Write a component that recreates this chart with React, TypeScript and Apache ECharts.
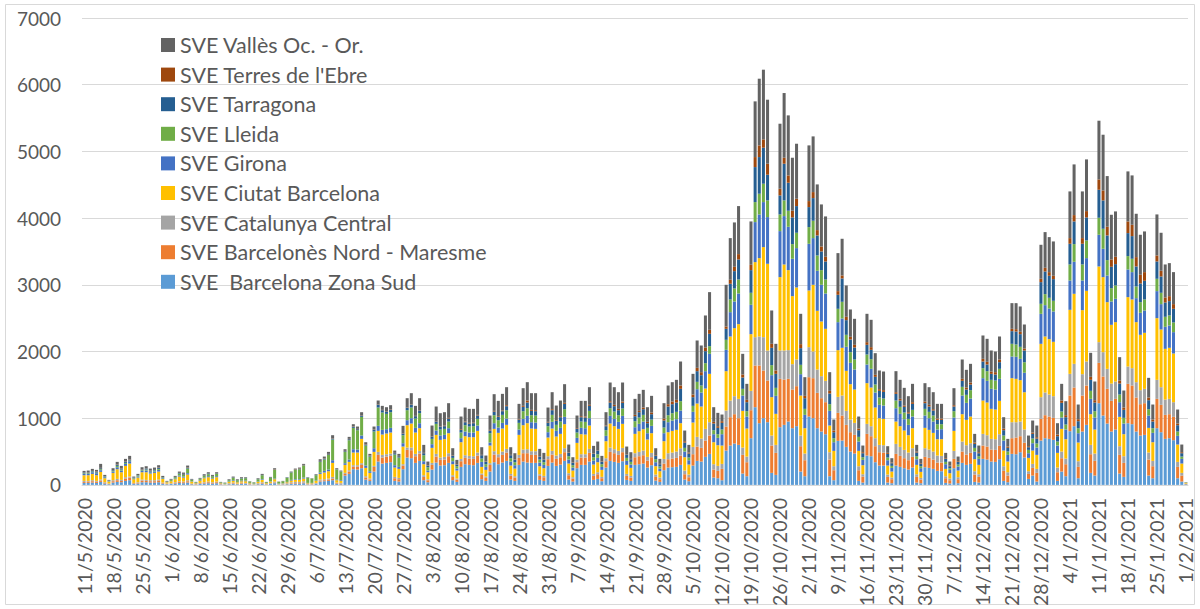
import React, { useEffect, useRef } from "react";
import * as echarts from "echarts";

// Daily categories: 11/5/2020 .. 1/2/2021 (267 days)
const START_Y = 2020, START_M = 4, START_D = 11, N_DAYS = 267;
const dates: string[] = Array.from({ length: N_DAYS }, (_, i) => {
  const d = new Date(START_Y, START_M, START_D + i);
  return `${d.getDate()}/${d.getMonth() + 1}/${d.getFullYear()}`;
});

const seriesNames = [
  "SVE  Barcelona Zona Sud",
  "SVE Barcelonès Nord - Maresme",
  "SVE Catalunya Central",
  "SVE Ciutat Barcelona",
  "SVE Girona",
  "SVE Lleida",
  "SVE Tarragona",
  "SVE Terres de l'Ebre",
  "SVE Vallès Oc. - Or.",
];
const seriesColors = ["#5B9BD5", "#ED7D31", "#A5A5A5", "#FFC000", "#4472C4", "#70AD47", "#255E91", "#9E480E", "#636363"];

const yTicks = [0, 1000, 2000, 3000, 4000, 5000, 6000, 7000];

const bzs = [
  30,30,35,30,45,20,10, 35,45,40,60,70,15,20, 40,40,35,35,40,15,10, 15,20,30,25,35,10,5,
  15,20,25,20,25,5,5, 10,15,10,15,15,5,5, 10,20,5,15,25,5,5, 10,15,20,20,25,5,5,
  15,50,55,60,70,15,10, 140,165,235,230,250,80,60, 200,350,320,330,340,60,50, 235,410,400,330,360,70,40,
  230,335,290,295,330,70,45, 270,310,300,295,330,85,60, 200,340,310,335,360,80,60, 300,350,335,330,330,75,60,
  285,335,285,305,360,80,50, 250,300,300,350,75,90,55, 260,360,345,330,355,75,60, 300,310,320,260,295,65,45,
  220,260,265,270,300,80,55, 290,360,350,420,465,110,100, 70,515,590,620,600,170,130, 700,1165,925,1000,940,180,150,
  865,900,950,850,880,200,130, 1025,1000,850,800,760,130,70, 660,665,570,500,470,60,35, 440,430,340,290,290,35,25,
  290,270,250,230,260,35,25, 265,255,240,210,205,30,20, 250,25,330,300,315,45,35, 390,380,350,345,385,60,40,
  465,460,490,410,90,140,50, 665,700,690,675,60,200,130, 805,880,100,800,900,180,140, 1225,1040,920,800,830,170,120,
  925,910,800,740,750,140,100, 850,790,690,700,670,100,50, 10,
];
const bnm = [
  15,20,20,20,20,10,5, 20,25,20,35,40,10,10, 25,20,20,20,25,10,5, 5,10,15,15,20,5,5,
  10,10,15,10,15,5,0, 5,10,5,10,5,5,0, 5,10,5,5,10,0,5, 5,10,10,10,10,5,5,
  5,15,15,20,25,10,10, 25,35,40,45,50,30,20, 70,100,90,95,95,40,35, 55,115,120,100,110,50,30,
  70,90,85,85,100,50,35, 85,95,95,95,110,65,45, 100,115,105,115,125,60,50, 105,125,140,120,120,60,55,
  100,120,105,110,130,65,45, 90,110,110,130,60,70,45, 95,135,130,120,135,60,50, 115,120,125,105,120,55,40,
  100,125,130,135,140,80,60, 170,215,205,245,275,120,110, 170,360,425,440,400,280,210, 420,625,865,715,625,410,330,
  725,680,640,580,600,380,240, 590,600,530,500,480,250,150, 420,375,330,290,280,160,90, 325,300,240,200,195,85,60,
  175,165,150,140,160,85,55, 155,150,140,125,130,70,50, 140,60,170,155,165,110,85, 200,195,180,180,200,150,100,
  235,250,240,220,75,115,130, 325,345,335,330,130,200,180, 535,580,170,540,590,280,220, 605,585,520,460,460,280,210,
  590,580,510,470,475,240,180, 440,410,360,360,350,170,90, 5,
];
const cc = [
  15,10,15,10,15,10,5, 15,20,15,20,15,5,10, 15,15,15,15,15,10,5, 5,10,10,10,15,5,5,
  5,10,10,10,10,5,5, 10,10,5,10,10,5,5, 10,10,5,10,15,5,5, 10,15,15,15,20,5,5,
  10,15,15,15,25,10,10, 15,20,20,20,25,20,15, 15,45,40,35,35,20,20, 20,35,40,35,40,25,15,
  30,40,35,40,45,25,15, 35,40,40,40,45,20,20, 25,50,45,50,55,25,20, 45,55,60,55,55,25,20,
  45,55,50,50,60,30,20, 40,50,50,60,30,30,20, 45,65,60,60,65,30,25, 60,65,70,55,65,35,25,
  70,90,90,95,110,55,40, 110,145,140,175,200,80,75, 75,240,250,270,290,110,85, 290,425,435,500,450,150,120,
  425,435,430,380,400,160,100, 450,400,350,330,320,110,60, 240,300,210,190,180,60,35, 150,150,120,110,110,35,25,
  150,135,125,115,130,40,25, 130,125,120,105,100,30,25, 120,30,150,140,145,50,40, 175,170,160,160,175,70,50,
  240,230,220,200,40,60,60, 325,340,330,325,70,100,85, 325,355,85,320,360,140,110, 310,365,300,260,260,130,100,
  260,260,230,210,215,105,80, 285,265,230,230,220,75,40, 5,
];
const cb = [
  85,85,95,85,115,60,30, 110,145,115,170,195,55,70, 110,115,100,110,120,55,20, 30,45,70,60,85,30,10,
  35,60,65,55,65,10,5, 20,25,20,20,25,10,5, 20,35,10,20,35,5,5, 15,25,30,30,40,10,10,
  30,85,100,110,210,35,30, 120,125,190,190,365,125,85, 210,315,305,310,315,140,135, 265,335,360,320,340,165,105,
  225,285,265,265,300,165,120, 250,285,280,285,325,100,100, 265,335,320,345,360,125,115, 300,365,390,340,335,120,115,
  280,335,285,300,360,145,100, 250,300,295,350,140,150,105, 255,360,345,330,360,135,120, 290,310,320,260,295,125,95,
  265,315,325,325,375,200,150, 365,500,480,605,725,330,310, 275,590,960,1020,1120,550,420, 850,1125,1175,1350,1300,575,465,
  1100,1290,1200,1020,1080,600,380, 850,1000,880,820,780,400,230, 700,715,600,530,500,230,135, 610,580,460,400,395,135,90,
  335,310,290,260,300,140,90, 305,295,280,245,250,110,80, 300,100,410,380,400,180,140, 500,490,450,445,500,235,160,
  660,650,620,560,200,200,210, 800,840,830,815,220,340,290, 960,1050,280,960,1060,460,360, 1135,1125,1000,880,890,440,330,
  1040,1030,900,830,840,370,280, 925,865,760,765,730,260,140, 10,
];
const girona = [
  20,20,25,30,25,15,5, 20,30,25,30,35,10,15, 20,25,20,20,25,10,5, 5,10,15,15,20,5,5,
  10,10,15,10,15,5,5, 5,10,5,10,10,5,5, 5,10,0,5,10,5,5, 5,10,10,10,15,5,5,
  5,20,25,25,40,10,10, 25,35,50,45,50,35,25, 55,75,70,65,70,35,30, 50,75,80,70,75,45,25,
  55,65,65,65,75,45,30, 60,70,70,70,80,75,45, 45,85,80,85,95,60,50, 80,95,110,95,95,55,50,
  80,100,85,90,110,60,45, 75,95,95,110,60,65,45, 80,115,110,105,120,60,50, 100,110,115,95,110,60,40,
  120,150,155,160,190,85,65, 160,215,210,260,300,120,110, 170,320,365,400,460,230,180, 440,600,655,675,700,330,270,
  690,725,650,560,590,320,200, 700,700,600,550,530,220,130, 420,440,360,320,300,140,80, 280,280,225,200,200,80,55,
  200,185,170,155,175,85,55, 185,175,170,145,150,70,50, 200,60,280,255,270,115,90, 335,325,300,300,330,150,100,
  325,330,320,290,70,110,110, 450,470,460,455,110,170,145, 440,480,140,445,490,230,180, 475,425,400,350,350,220,160,
  415,410,360,330,335,185,140, 405,380,330,335,320,130,70, 0,
];
const lleida = [
  10,10,10,10,15,10,5, 10,20,15,15,10,10,15, 10,15,10,15,15,10,5, 15,20,30,25,70,20,10,
  15,25,30,25,35,10,10, 20,35,25,30,35,20,15, 35,60,15,50,130,25,30, 60,110,140,150,180,75,65,
  80,160,170,220,310,150,130, 170,290,320,290,280,300,220, 250,275,260,230,235,160,140, 120,150,160,140,150,90,50,
  80,100,90,90,100,50,35, 85,95,90,95,100,50,40, 140,120,110,120,125,50,45, 100,115,115,105,105,45,40,
  90,105,90,95,115,50,35, 80,95,95,110,50,55,40, 85,115,110,100,110,45,40, 90,95,100,80,95,45,30,
  85,105,110,110,140,55,40, 90,110,105,120,115,60,55, 70,150,190,195,210,100,80, 180,300,310,275,250,150,120,
  250,235,240,220,230,140,90, 250,260,230,220,210,100,60, 200,250,180,160,150,70,40, 150,145,120,110,105,40,30,
  115,105,100,90,100,45,30, 100,95,90,80,75,35,25, 95,30,130,120,125,55,40, 150,145,135,135,150,75,50,
  190,185,180,160,50,70,60, 150,165,160,160,60,90,75, 240,265,75,240,265,120,95, 255,300,230,200,200,115,85,
  200,200,175,160,165,95,70, 185,170,150,150,145,65,35, 5,
];
const tarragona = [
  10,10,10,10,15,5,5, 10,15,15,15,15,5,5, 10,15,10,10,15,5,0, 5,5,10,10,10,5,0,
  5,5,10,5,5,0,0, 5,5,5,5,5,0,0, 5,5,0,5,5,0,0, 5,5,5,5,5,5,0,
  5,10,10,10,15,5,5, 10,15,15,15,20,15,10, 25,40,35,35,35,20,20, 25,35,40,35,40,30,20,
  35,35,40,40,45,30,20, 40,45,45,45,50,50,35, 40,55,50,55,60,45,35, 50,65,85,65,65,45,40,
  55,70,60,65,80,50,35, 55,65,65,75,50,55,35, 60,85,80,75,85,50,40, 75,80,85,70,80,50,35,
  105,130,135,140,185,80,60, 130,160,155,180,185,100,95, 100,165,235,260,300,170,135, 340,525,550,540,385,260,210,
  285,550,420,400,400,250,160, 300,340,300,280,270,160,90, 210,350,220,190,180,100,60, 145,140,115,100,100,55,40,
  100,95,85,80,90,55,35, 85,80,75,65,65,45,30, 70,40,90,80,85,60,45, 100,100,90,90,100,80,55,
  190,195,190,175,40,70,75, 325,340,330,325,80,130,110, 310,340,105,310,345,165,130, 420,425,370,320,320,165,120,
  345,340,300,280,280,135,100, 260,245,215,215,205,95,50, 0,
];
const terresEbre = [
  0,5,0,5,5,0,0, 0,5,5,5,5,0,0, 5,0,5,0,5,0,0, 0,0,0,5,5,0,0,
  0,0,0,0,0,0,0, 0,0,0,0,0,0,0, 0,0,0,0,5,0,0, 0,0,5,5,5,0,0,
  0,5,5,5,5,0,0, 5,5,5,5,5,5,5, 5,5,5,5,5,5,5, 5,5,5,5,5,5,5,
  5,5,5,10,10,5,5, 10,10,10,10,10,5,5, 10,10,10,10,15,5,5, 10,15,30,15,15,5,5,
  10,15,10,15,15,5,5, 10,15,15,15,5,5,5, 10,20,20,20,20,5,5, 20,20,25,20,25,10,5,
  30,35,40,40,50,20,15, 40,50,45,55,60,25,25, 25,35,60,65,80,45,35, 80,150,175,125,165,60,50,
  100,90,110,100,110,60,35, 90,90,80,75,70,40,25, 55,45,50,40,40,25,15, 40,40,30,25,25,15,10,
  25,25,20,20,25,15,10, 25,25,20,20,20,10,10, 20,10,30,30,30,20,15, 40,40,35,35,40,25,20,
  35,35,35,30,15,20,20, 50,55,55,50,25,35,30, 85,95,30,85,95,45,35, 155,150,130,110,110,45,35,
  175,170,140,130,130,40,30, 90,85,75,75,70,25,15, 0,
];
const valles = [
  25,25,30,25,60,20,10, 30,40,35,40,50,15,20, 30,35,30,35,35,20,10, 10,15,20,20,30,10,5,
  10,20,20,15,20,5,5, 10,15,10,15,10,5,5, 10,15,5,10,15,5,5, 5,10,10,15,15,5,5,
  10,25,30,30,45,15,10, 25,30,35,35,45,30,25, 45,60,60,60,65,35,30, 110,140,170,150,180,120,60,
  160,220,200,200,220,110,70, 190,210,210,205,240,115,90, 215,250,230,250,270,115,95, 225,265,275,250,255,110,95,
  215,255,220,235,280,120,80, 190,230,235,265,115,130,85, 200,280,265,250,285,115,100, 240,255,265,220,250,105,75,
  230,280,290,300,360,160,115, 310,410,400,480,565,220,200, 100,625,625,665,720,310,240, 650,835,1000,1045,960,500,400,
  975,970,900,795,825,455,280, 835,835,685,630,605,280,165, 570,550,470,410,390,180,100, 425,410,325,280,280,100,65,
  315,285,265,240,275,100,65, 275,265,255,220,220,80,60, 255,70,290,265,280,130,100, 350,345,315,310,345,170,115,
  385,390,380,360,160,180,175, 510,535,525,515,170,250,210, 700,760,220,700,775,360,280, 880,835,760,670,680,350,255,
  750,740,650,600,610,295,225, 615,570,495,495,480,210,115, 5,
];

const seriesData = [bzs, bnm, cc, cb, girona, lleida, tarragona, terresEbre, valles];

const FONT = "Lato, 'Noto Sans', sans-serif";
const TEXT = "#595959";

export default function App() {
  const ref = useRef<HTMLDivElement>(null);
  useEffect(() => {
    if (!ref.current) return;
    const chart = echarts.init(ref.current, undefined, { renderer: "svg" });
    chart.setOption({
      animation: false,
      backgroundColor: "#ffffff",
      textStyle: { fontFamily: FONT },
      graphic: [
        {
          type: "rect",
          shape: { x: 5.5, y: 4.5, width: 1189, height: 600 },
          style: { fill: "none", stroke: "#D9D9D9", lineWidth: 1 },
          silent: true,
          z: -10,
        },
      ],
      grid: { left: 82, right: 12, top: 18, bottom: 124, containLabel: false },
      legend: {
        orient: "vertical",
        left: 161,
        top: 34,
        padding: 0,
        itemWidth: 14,
        itemHeight: 14,
        itemGap: 7.6,
        icon: "rect",
        data: [...seriesNames].reverse(),
        textStyle: { fontFamily: FONT, fontSize: 21.5, color: TEXT, lineHeight: 22 },
      },
      xAxis: {
        type: "category",
        data: dates,
        boundaryGap: true,
        axisTick: { show: false },
        axisLine: { lineStyle: { color: "#D9D9D9", width: 1 } },
        axisLabel: {
          interval: 6,
          rotate: 90,
          margin: 13,
          fontSize: 19.5,
          fontFamily: FONT,
          color: TEXT,
        },
      },
      yAxis: {
        type: "value",
        min: yTicks[0],
        max: yTicks[yTicks.length - 1],
        interval: 1000,
        axisLine: { show: false },
        axisTick: { show: false },
        splitLine: { lineStyle: { color: "#D9D9D9", width: 1 } },
        axisLabel: {
          fontSize: 19,
          fontFamily: FONT,
          color: TEXT,
          margin: 21,
          formatter: (v: number) => String(v),
        },
      },
      series: seriesNames.map((name, i) => ({
        name,
        type: "bar",
        stack: "total",
        barCategoryGap: "27%",
        itemStyle: { color: seriesColors[i] },
        data: seriesData[i],
      })),
    });
    return () => chart.dispose();
  }, []);
  return (
    <div
      ref={ref}
      style={{ position: "absolute", left: 0, top: 0, width: 1200, height: 609, background: "#fff" }}
    />
  );
}
